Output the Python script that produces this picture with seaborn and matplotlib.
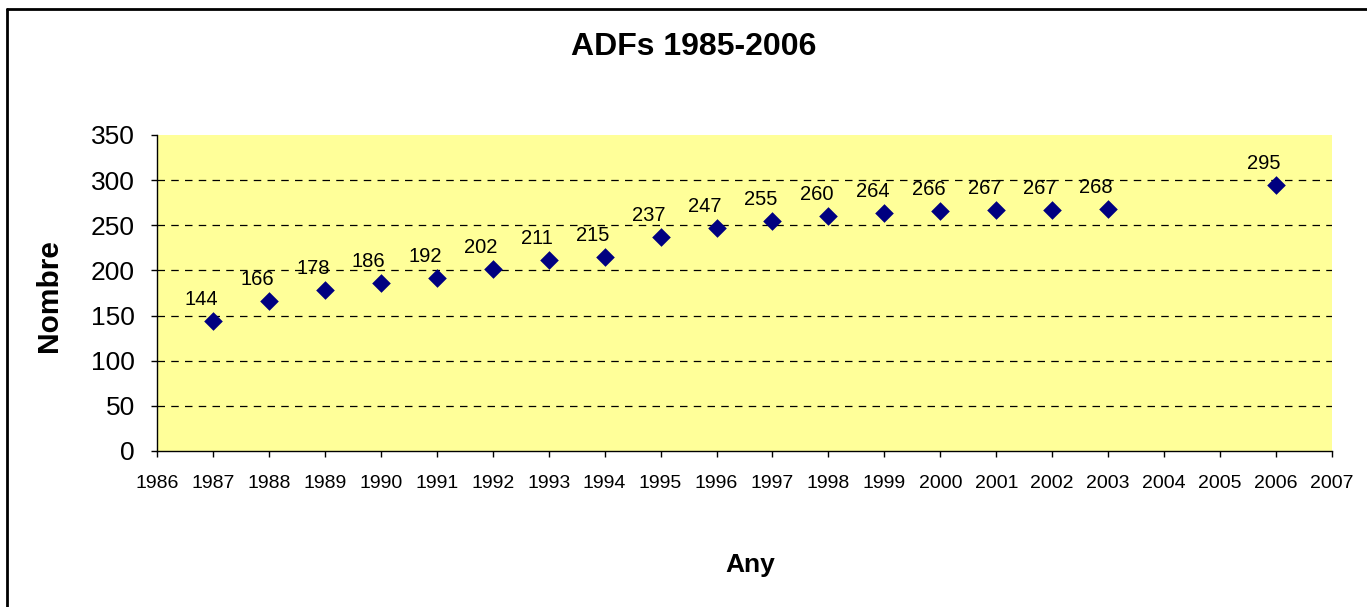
import pandas as pd
import seaborn as sns
import matplotlib.pyplot as plt
from matplotlib.lines import Line2D
from matplotlib.transforms import offset_copy

# ADF counts per year
years = [1987, 1988, 1989, 1990, 1991, 1992, 1993, 1994, 1995, 1996,
         1997, 1998, 1999, 2000, 2001, 2002, 2003, 2006]
counts = [144, 166, 178, 186, 192, 202, 211, 215, 237, 247,
          255, 260, 264, 266, 267, 267, 268, 295]
year_ticks = list(range(1986, 2008))
count_ticks = [0, 50, 100, 150, 200, 250, 300, 350]

df = pd.DataFrame({'Any': years, 'Nombre': counts})

sns.set_style('white')
plt.rcParams['font.family'] = ['Liberation Sans', 'DejaVu Sans']
plt.rcParams['text.color'] = 'black'
plt.rcParams['xtick.color'] = 'black'
plt.rcParams['ytick.color'] = 'black'

W, H = 1367, 607
fig = plt.figure(figsize=(W / 100, H / 100), dpi=100)
ax = fig.add_axes([157 / W, 1 - 451 / H, (1332 - 157) / W, (451 - 135) / H])
ax.set_facecolor('#FFFF99')

# dashed grid, not on the top edge
for v in count_ticks[1:-1]:
    ax.axhline(v, linestyle=(0, (6, 5)), color='black', linewidth=0.9, zorder=1)

sns.scatterplot(data=df, x='Any', y='Nombre', marker='D', s=90,
                color='#000080', edgecolor='#000080', linewidth=0, ax=ax, zorder=3)

# data labels, a bit above and left of each point
lab_tr = offset_copy(ax.transData, fig=fig, x=-12, y=16, units='dots')
for x, y in zip(years, counts):
    ax.text(x, y, str(y), transform=lab_tr, ha='center', va='baseline',
            fontsize=14.5, color='black', zorder=4)

ax.set_xlim(1986, 2007)
ax.set_ylim(0, 350)
ax.set_xticks(year_ticks)
ax.set_yticks(count_ticks)
ax.tick_params(axis='x', labelsize=14, direction='out', length=4, width=1,
               color='black', bottom=True, pad=13)
ax.tick_params(axis='y', labelsize=19, direction='out', length=4, width=1,
               color='black', left=True, pad=12)

ax.grid(False)
for side in ['top', 'right']:
    ax.spines[side].set_visible(False)
for side in ['left', 'bottom']:
    ax.spines[side].set_color('black')
    ax.spines[side].set_linewidth(1)

ax.set_xlabel('')
ax.set_ylabel('')
fig.text(63 / W, 1 - 296 / H, 'Nombre', fontsize=21.5, fontweight='bold',
         rotation=90, ha='center', va='bottom', rotation_mode='anchor')
fig.text(750 / W, 1 - 572 / H, 'Any', fontsize=19, fontweight='bold',
         ha='center', va='baseline')
fig.text(694 / W, 1 - 55 / H, 'ADFs 1985-2006', fontsize=23, fontweight='bold',
         ha='center', va='baseline')

# chart area border (only left and top visible in the crop)
fig.add_artist(Line2D([7 / W, 7 / W], [0, 1 - 9 / H], color='black', linewidth=2))
fig.add_artist(Line2D([7 / W, 1], [1 - 9 / H, 1 - 9 / H], color='black', linewidth=2))

plt.savefig('out.png', dpi=100)
